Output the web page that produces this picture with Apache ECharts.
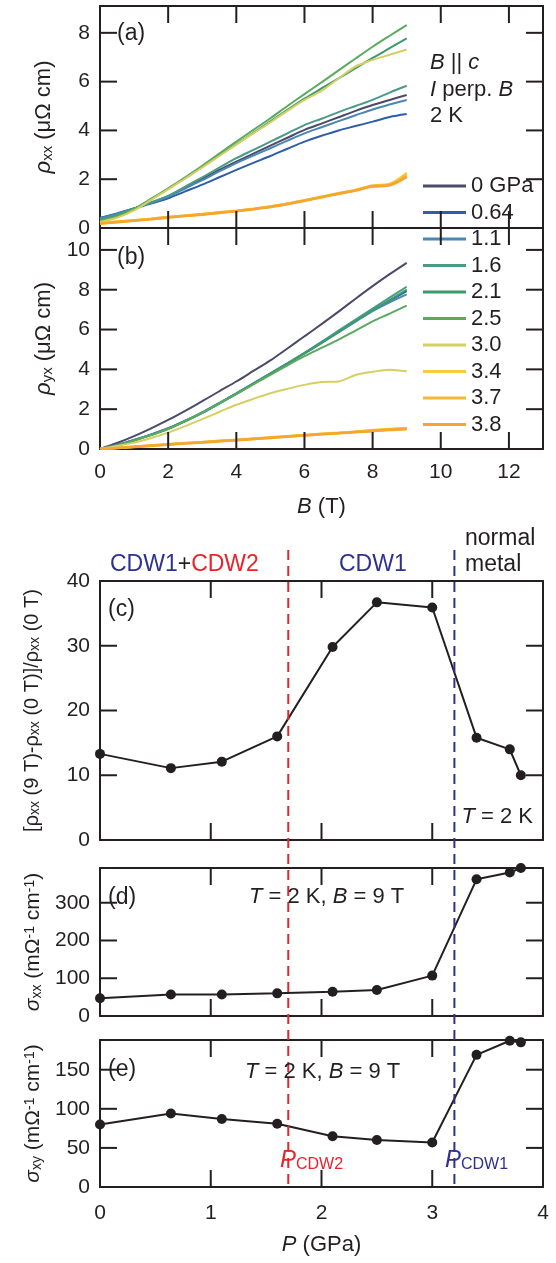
<!DOCTYPE html>
<html><head><meta charset="utf-8">
<script src="https://cdn.jsdelivr.net/npm/echarts@6/dist/echarts.min.js"></script>
<style>html,body{margin:0;padding:0;background:#fff}#c,#tmp{width:556px;height:1263px}#tmp{position:absolute;left:-2000px;top:0}</style>
</head><body><div id="c"></div><div id="tmp"></div>
<script>
// ---------- data ----------
const fieldB = [0,0.5,1,1.5,2,2.5,3,3.5,4,4.5,5,5.5,6,6.5,7,7.5,8,8.5,9];
const pressureLabels = ['0 GPa','0.64','1.1','1.6','2.1','2.5','3.0','3.4','3.7','3.8'];

// (a) rho_xx (μΩ cm)
const rxx_0   = [0.38,0.55,0.80,1.04,1.30,1.66,2.02,2.38,2.72,3.05,3.38,3.70,4.02,4.28,4.54,4.80,5.04,5.25,5.45];
const rxx_064 = [0.42,0.60,0.80,1.00,1.22,1.50,1.78,2.08,2.38,2.67,2.95,3.25,3.54,3.78,4.00,4.18,4.36,4.55,4.67];
const rxx_11  = [0.40,0.58,0.80,1.03,1.28,1.62,1.96,2.32,2.66,2.97,3.27,3.58,3.88,4.13,4.38,4.62,4.86,5.06,5.25];
const rxx_16  = [0.36,0.55,0.80,1.05,1.32,1.70,2.08,2.47,2.86,3.20,3.54,3.88,4.22,4.48,4.75,5.00,5.25,5.55,5.83];
const rxx_21  = [0.32,0.50,0.77,1.17,1.60,2.04,2.50,2.97,3.44,3.90,4.37,4.84,5.30,5.72,6.13,6.55,6.97,7.37,7.77];
const rxx_25  = [0.30,0.48,0.78,1.20,1.63,2.08,2.55,3.05,3.54,4.02,4.50,5.00,5.49,5.97,6.46,6.95,7.43,7.88,8.32];
const rxx_30  = [0.25,0.42,0.72,1.15,1.58,2.03,2.48,2.95,3.42,3.88,4.33,4.80,5.25,5.62,6.13,6.62,6.89,7.10,7.32];
const rxx_34  = [0.20,0.26,0.32,0.38,0.45,0.51,0.57,0.64,0.71,0.79,0.88,1.00,1.14,1.28,1.42,1.56,1.74,1.80,2.25];
const rxx_37  = [0.19,0.25,0.31,0.37,0.44,0.50,0.56,0.63,0.70,0.78,0.87,0.99,1.13,1.27,1.41,1.55,1.72,1.77,2.16];
const rxx_38  = [0.18,0.24,0.30,0.36,0.43,0.49,0.55,0.62,0.69,0.77,0.86,0.98,1.12,1.26,1.40,1.54,1.70,1.75,2.10];

// (b) rho_yx (μΩ cm)
const ryx_0   = [0,0.30,0.65,1.04,1.46,1.92,2.40,2.90,3.39,3.92,4.45,5.05,5.66,6.27,6.90,7.55,8.18,8.78,9.35];
const ryx_064 = [0,0.20,0.45,0.73,1.04,1.42,1.84,2.31,2.80,3.30,3.80,4.30,4.82,5.35,5.90,6.45,6.98,7.45,7.93];
const ryx_11  = [0,0.20,0.45,0.72,1.03,1.41,1.83,2.30,2.78,3.28,3.78,4.28,4.80,5.32,5.86,6.40,6.93,7.37,7.77];
const ryx_16  = [0,0.19,0.44,0.71,1.02,1.40,1.82,2.29,2.78,3.28,3.79,4.30,4.83,5.38,5.95,6.50,7.05,7.60,8.15];
const ryx_21  = [0,0.18,0.43,0.70,1.01,1.39,1.81,2.28,2.77,3.27,3.77,4.28,4.80,5.33,5.88,6.42,6.96,7.48,8.00];
const ryx_25  = [0,0.18,0.42,0.70,1.00,1.40,1.82,2.28,2.76,3.24,3.72,4.20,4.66,5.08,5.49,5.95,6.41,6.80,7.20];
const ryx_30  = [0,0.15,0.32,0.55,0.82,1.15,1.50,1.86,2.22,2.52,2.80,3.02,3.22,3.36,3.39,3.72,3.88,3.98,3.90];
const ryx_34  = [0,0.06,0.12,0.18,0.24,0.30,0.35,0.41,0.46,0.52,0.58,0.64,0.70,0.76,0.81,0.87,0.95,1.00,1.05];
const ryx_37  = [0,0.05,0.11,0.17,0.23,0.29,0.34,0.40,0.45,0.51,0.57,0.63,0.69,0.75,0.80,0.86,0.92,0.98,1.03];
const ryx_38  = [0,0.05,0.10,0.16,0.22,0.28,0.33,0.39,0.44,0.50,0.56,0.62,0.68,0.74,0.79,0.85,0.90,0.96,1.00];

// (c)-(e) vs pressure
const pressure = [0, 0.64, 1.1, 1.6, 2.1, 2.5, 3.0, 3.4, 3.7, 3.8];
const mrRatio  = [13.3, 11.1, 12.1, 16.0, 29.8, 36.7, 35.9, 15.8, 14.0, 10.0];
const sigmaXX  = [47, 57, 57, 60, 64, 69, 107, 362, 380, 392];
const sigmaXY  = [80, 94, 87, 81, 65, 60, 57, 169, 187, 185];
const P_CDW2 = 1.7;
const P_CDW1 = 3.2;

// tick values (inner ticks, drawn on both sides of each frame)
const ticksB  = [2,4,6,8,10,12];
const ticksP  = [1,2,3];
const ticksYa = [2,4,6,8];
const ticksYb = [2,4,6,8,10];
const ticksYc = [10,20,30];
const ticksYd = [100,200,300];
const ticksYe = [50,100,150];

const colors = ['#4b4a6b','#2e5ea8','#4a86b6','#4a9a86','#3d9a6c','#5aab5e','#d6cf62','#f8ca3e','#f8b735','#f6a52e'];
const rxxSets = [rxx_0,rxx_064,rxx_11,rxx_16,rxx_21,rxx_25,rxx_30,rxx_34,rxx_37,rxx_38];
const ryxSets = [ryx_0,ryx_064,ryx_11,ryx_16,ryx_21,ryx_25,ryx_30,ryx_34,ryx_37,ryx_38];

// ---------- chart ----------
const FONT = '"Liberation Sans", Arial, Helvetica, sans-serif';
const INK = '#231f20', BLUE = '#2e3192', RED = '#e8242a';

const grids = [
  {left:100, right:13, top:6, height:222},
  {left:100, right:13, top:228, height:221},
  {left:100, right:13, top:581, height:259},
  {left:100, right:13, top:868, height:148},
  {left:100, right:13, top:1040, height:147}
];
function ax(o){
  return Object.assign({
    type:'value',
    axisLine:{show:true, onZero:false, lineStyle:{color:INK, width:2}},
    axisTick:{show:false},
    splitLine:{show:false},
    axisLabel:{show:false}
  }, o);
}
const lbl = (extra)=>Object.assign({show:true, fontSize:21, fontFamily:FONT, color:INK, margin:10, showMaxLabel:false}, extra||{});
const nameStyle = (size)=>({fontSize:size, fontFamily:FONT, color:INK,
  rich:{
    i:{fontSize:size, fontStyle:'italic', fontFamily:FONT, color:INK},
    g:{fontSize:size, fontFamily:FONT, color:INK},
    s:{fontSize:Math.round(size*0.68), fontFamily:FONT, color:INK, verticalAlign:'bottom'},
    p:{fontSize:Math.round(size*0.68), fontFamily:FONT, color:INK, verticalAlign:'top'}
  }});
const xAxis = [
  ax({gridIndex:0, position:'bottom', min:0, max:13, interval:2}),
  ax({gridIndex:0, position:'top', min:0, max:13, interval:2}),
  ax({gridIndex:1, position:'bottom', min:0, max:13, interval:2, axisLabel:lbl({margin:13}),
      name:'{i|B} (T)', nameLocation:'middle', nameGap:47, nameTextStyle:nameStyle(22)}),
  ax({gridIndex:1, position:'top', min:0, max:13, interval:2}),
  ax({gridIndex:2, position:'bottom', min:0, max:4, interval:1}),
  ax({gridIndex:2, position:'top', min:0, max:4, interval:1}),
  ax({gridIndex:3, position:'bottom', min:0, max:4, interval:1}),
  ax({gridIndex:3, position:'top', min:0, max:4, interval:1}),
  ax({gridIndex:4, position:'bottom', min:0, max:4, interval:1, axisLabel:lbl({margin:16, showMaxLabel:true}),
      name:'{i|P} (GPa)', nameLocation:'middle', nameGap:47, nameTextStyle:nameStyle(22)}),
  ax({gridIndex:4, position:'top', min:0, max:4, interval:1})
];
const yAxis = [
  ax({gridIndex:0, position:'left', min:0, max:9.1, interval:2, axisLabel:lbl(),
      name:'{i|ρ}{s|xx} (μΩ cm)', nameLocation:'middle', nameRotate:90, nameGap:45, nameTextStyle:nameStyle(22)}),
  ax({gridIndex:0, position:'right', min:0, max:9.1, interval:2}),
  ax({gridIndex:1, position:'left', min:0, max:11.1, interval:2, axisLabel:lbl(),
      name:'{i|ρ}{s|yx} (μΩ cm)', nameLocation:'middle', nameRotate:90, nameGap:45, nameTextStyle:nameStyle(22)}),
  ax({gridIndex:1, position:'right', min:0, max:11.1, interval:2}),
  ax({gridIndex:2, position:'left', min:0, max:40, interval:10, axisLabel:lbl({showMaxLabel:true}),
      name:'[{g|ρ}{s|xx} (9 T)-{g|ρ}{s|xx} (0 T)]/{g|ρ}{s|xx} (0 T)', nameLocation:'middle', nameRotate:90, nameGap:58, nameTextStyle:nameStyle(20)}),
  ax({gridIndex:2, position:'right', min:0, max:40, interval:10}),
  ax({gridIndex:3, position:'left', min:0, max:392, interval:100, axisLabel:lbl(),
      name:'{i|σ}{s|xx} (mΩ{p|-1} cm{p|-1})', nameLocation:'middle', nameRotate:90, nameGap:54, nameTextStyle:nameStyle(21)}),
  ax({gridIndex:3, position:'right', min:0, max:392, interval:100}),
  ax({gridIndex:4, position:'left', min:0, max:188, interval:50, axisLabel:lbl(),
      name:'{i|σ}{s|xy} (mΩ{p|-1} cm{p|-1})', nameLocation:'middle', nameRotate:90, nameGap:54, nameTextStyle:nameStyle(21)}),
  ax({gridIndex:4, position:'right', min:0, max:188, interval:50})
];

const series = [];
pressureLabels.forEach((name, k)=>{
  series.push({type:'line', name, xAxisIndex:0, yAxisIndex:0, showSymbol:false, smooth:0.3,
    lineStyle:{width:k>=7?2.6:2, color:colors[k]}, itemStyle:{color:colors[k]},
    data: fieldB.map((b,i)=>[b, rxxSets[k][i]])});
});
pressureLabels.forEach((name, k)=>{
  series.push({type:'line', name, xAxisIndex:2, yAxisIndex:2, showSymbol:false, smooth:0.3,
    lineStyle:{width:k>=7?2.6:2, color:colors[k]}, itemStyle:{color:colors[k]},
    data: fieldB.map((b,i)=>[b, ryxSets[k][i]])});
});
const ptSeries = (xi, yi, vals)=>({type:'line', xAxisIndex:xi, yAxisIndex:yi, clip:false,
  symbol:'circle', symbolSize:10, showSymbol:true,
  lineStyle:{width:2, color:INK}, itemStyle:{color:INK}, z:6,
  data: pressure.map((p,i)=>[p, vals[i]])});
series.push(ptSeries(4,4,mrRatio), ptSeries(6,6,sigmaXX), ptSeries(8,8,sigmaXY));

const option = {
  animation:false, grid:grids, xAxis, yAxis, series,
  legend:{
    data:pressureLabels, orient:'vertical', left:418, top:170, selectedMode:false,
    icon:'rect', itemWidth:43, itemHeight:3, itemGap:4.5,
    textStyle:{fontSize:22, fontFamily:FONT, color:INK, lineHeight:22}
  }
};

// measure positions through the library's scales on a throwaway instance
const tmp = echarts.init(document.getElementById('tmp'));
tmp.setOption(option);
const tickGraphics = [];
const TL = 17;
function addTicks(xi, yi, xTicks, yTicks){
  const xMin = xAxis[xi].min, xMax = xAxis[xi].max, yMin = yAxis[yi].min, yMax = yAxis[yi].max;
  const yB = tmp.convertToPixel({yAxisIndex:yi}, yMin), yT = tmp.convertToPixel({yAxisIndex:yi}, yMax);
  const xL = tmp.convertToPixel({xAxisIndex:xi}, xMin), xR = tmp.convertToPixel({xAxisIndex:xi}, xMax);
  xTicks.forEach(v=>{
    const x = tmp.convertToPixel({xAxisIndex:xi}, v);
    tickGraphics.push({type:'line', z:30, silent:true, shape:{x1:x, y1:yB, x2:x, y2:yB-TL}, style:{stroke:INK, lineWidth:2}});
    tickGraphics.push({type:'line', z:30, silent:true, shape:{x1:x, y1:yT, x2:x, y2:yT+TL}, style:{stroke:INK, lineWidth:2}});
  });
  yTicks.forEach(v=>{
    const y = tmp.convertToPixel({yAxisIndex:yi}, v);
    tickGraphics.push({type:'line', z:30, silent:true, shape:{x1:xL, y1:y, x2:xL+TL, y2:y}, style:{stroke:INK, lineWidth:2}});
    tickGraphics.push({type:'line', z:30, silent:true, shape:{x1:xR, y1:y, x2:xR-TL, y2:y}, style:{stroke:INK, lineWidth:2}});
  });
}
addTicks(0, 0, ticksB, ticksYa);
addTicks(2, 2, ticksB, ticksYb);
addTicks(4, 4, ticksP, ticksYc);
addTicks(6, 6, ticksP, ticksYd);
addTicks(8, 8, ticksP, ticksYe);
const xRed = tmp.convertToPixel({xAxisIndex:4}, P_CDW2);
const xBlue = tmp.convertToPixel({xAxisIndex:4}, P_CDW1);
const yBot = tmp.convertToPixel({yAxisIndex:8}, 0);
const yTop = tmp.convertToPixel({yAxisIndex:4}, 40) - 31;
tmp.dispose();

function txt(x, y, text, size, fill, rich, align){
  return {type:'text', z:40, style:{x, y, text, fontSize:size, fontFamily:FONT, fill:fill||INK,
    align:align||'left', verticalAlign:'middle', rich:rich||{}}};
}
const it = (size, fill)=>({fontSize:size, fontStyle:'italic', fontFamily:FONT, fill:fill||INK});
const rm = (size, fill)=>({fontSize:size, fontFamily:FONT, fill:fill||INK});
const subR = (size, fill)=>({fontSize:size, fontFamily:FONT, fill:fill||INK, padding:[10,0,0,0]});

option.graphic = tickGraphics.concat([
  txt(117, 34, '(a)', 23), txt(117, 258, '(b)', 23),
  txt(430, 63, '{i|B} || {i|c}', 22, INK, {i:it(22)}),
  txt(430, 90, '{i|I} perp. {i|B}', 22, INK, {i:it(22)}),
  txt(430, 116, '2 K', 22),
  txt(110, 565, '{b|CDW1}{k|+}{r|CDW2}', 23, INK, {b:rm(23,BLUE), k:rm(23,INK), r:rm(23,RED)}),
  txt(339, 565, 'CDW1', 23, BLUE), txt(465, 539, 'normal', 23), txt(465, 565, 'metal', 23),
  txt(108, 610, '(c)', 23),
  txt(533, 817, '{i|T} = 2 K', 22, INK, {i:it(22)}, 'right'),
  txt(108, 898, '(d)', 23),
  txt(249, 897, '{i|T} = 2 K, {i|B} = 9 T', 22, INK, {i:it(22)}),
  txt(108, 1070, '(e)', 23),
  txt(245, 1072, '{i|T} = 2 K, {i|B} = 9 T', 22, INK, {i:it(22)}),
  txt(280, 1160, '{i|P}{s|CDW2}', 23, RED, {i:it(24,RED), s:subR(16,RED)}),
  txt(445, 1160, '{i|P}{s|CDW1}', 23, BLUE, {i:it(24,BLUE), s:subR(16,BLUE)}),
  {type:'line', z:35, silent:true, shape:{x1:xRed, y1:yTop, x2:xRed, y2:yBot}, style:{stroke:RED, lineWidth:2, lineDash:[10,6]}},
  {type:'line', z:35, silent:true, shape:{x1:xBlue, y1:yTop, x2:xBlue, y2:yBot}, style:{stroke:BLUE, lineWidth:2, lineDash:[10,6]}}
]);
const chart = echarts.init(document.getElementById('c'));
chart.setOption(option);
</script>
</body></html>
